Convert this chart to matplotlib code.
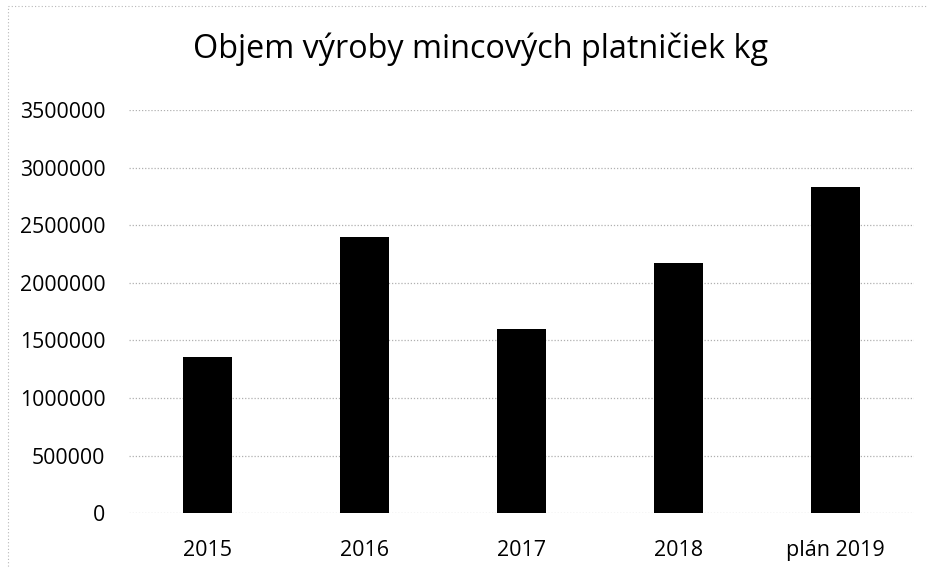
import matplotlib
matplotlib.use("Agg")
import matplotlib.pyplot as plt
from matplotlib.patches import Rectangle

categories = ["2015", "2016", "2017", "2018", "plán 2019"]
values = [1359000, 2396000, 1603000, 2170000, 2835000]
yticks = [0, 500000, 1000000, 1500000, 2000000, 2500000, 3000000, 3500000]

plt.rcParams['font.family'] = ['Open Sans', 'DejaVu Sans']

fig = plt.figure(figsize=(9.29, 5.68), dpi=100)
ax = fig.add_axes([0.1389, 0.0963, 0.845, 0.71])

x = list(range(len(categories)))
ax.bar(x, values, width=0.31, color="black", zorder=3)

ax.set_xlim(-0.5, len(categories) - 0.5)
ax.set_ylim(0, 3500000)
ax.set_yticks(yticks)
ax.set_yticklabels([str(v) for v in yticks], fontsize=15.3)
ax.set_xticks(x)
ax.set_xticklabels(categories, fontsize=15.5)
ax.tick_params(length=0)
ax.tick_params(axis='y', pad=17)
ax.tick_params(axis='x', pad=19)
ax.yaxis.grid(True, color="#b0b0b0", linestyle=(0, (1, 1.5)), linewidth=0.9, zorder=0)
for s in ax.spines.values():
    s.set_visible(False)

fig.text(0.517, 0.913, "Objem výroby mincových platničiek kg", ha="center", va="center", fontsize=23.3)

# chart border
fig.patches.append(Rectangle((0.009, -0.01), 1.0, 1.0, transform=fig.transFigure, fill=False,
                             edgecolor="#b8b8b8", linestyle=(0, (1, 2)), linewidth=0.8))

fig.savefig("out.png", dpi=100)
